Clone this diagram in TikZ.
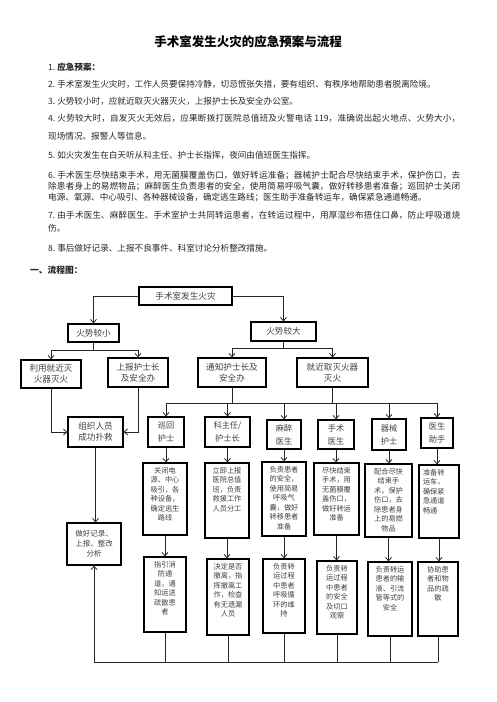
\documentclass[tikz,border=0pt]{standalone}
\usepackage{fontspec}
\newfontfamily\cjk{Noto Sans CJK SC}
\usetikzlibrary{arrows.meta,positioning,calc}
\XeTeXlinebreaklocale "zh"
\XeTeXlinebreakskip=0pt plus 1pt

\begin{document}
\begin{tikzpicture}[
  x=1pt, y=-1pt,
  txt/.style={inner sep=0pt, text=black!85},
  para/.style={txt, anchor=north west, text width=412pt, align=justify,
               font=\cjk\fontsize{8.6}{#1}\selectfont},
  para/.default=13,
  box/.style={draw=black, line width=1.1pt, inner sep=0pt, align=center, text=black!75},
  sz/.style 2 args={minimum width=#1pt, minimum height=#2pt},
  lvl/.style={box, font=\cjk\fontsize{8.6}{11}\selectfont},
  rolebox/.style={box, font=\cjk\fontsize{8.2}{13}\selectfont},
  dutybox/.style={box, inner sep=4pt, font=\cjk\fontsize{7.2}{9.5}\selectfont},
  link/.style={line width=0.8pt, black!85},
  flow/.style={link, -{Straight Barb[length=3.5pt, width=6pt]}}
]
\newcommand{\duty}[4][\centering]{\parbox[c][#3pt][t]{#2pt}{#1#4}}
\useasboundingbox (0,0) rectangle (496,702);

% heading and plan text
\node[txt, text=black, font=\cjk\bfseries\fontsize{12.5}{14}\selectfont] (title) at (248,42) {手术室发生火灾的应急预案与流程};

\node[para] (p1) at (48,62.5) {1.\ \textbf{应急预案：}};
\node[para] (p2) at (48,79.5) {2.\ 手术室发生火灾时，工作人员要保持冷静，切忌慌张失措，要有组织、有秩序地帮助患者脱离险境。};
\node[para] (p3) at (48,96.5) {3.\ 火势较小时，应就近取灭火器灭火，上报护士长及安全办公室。};
\node[para=17.5] (p4) at (48,114.5) {4.\ 火势较大时，自发灭火无效后，应果断拨打医院总值班及火警电话 119，准确说出起火地点、火势大小，\linebreak 现场情况、报警人等信息。};
\node[para] (p5) at (48,151.5) {5.\ 如火灾发生在白天听从科主任、护士长指挥，夜间由值班医生指挥。};
\node[para=11] (p6) at (48,171.5) {6.\ 手术医生尽快结束手术，用无菌膜覆盖伤口，做好转运准备；器械护士配合尽快结束手术，保护伤口，去\linebreak 除患者身上的易燃物品；麻醉医生负责患者的安全，使用简易呼吸气囊，做好转移患者准备；巡回护士关闭\linebreak 电源、氧源、中心吸引、各种器械设备，确定逃生路线；医生助手准备转运车，确保紧急通道畅通。};
\node[para=13.3] (p7) at (48,210.5) {7.\ 由手术医生、麻醉医生、手术室护士共同转运患者，在转运过程中，用厚湿纱布捂住口鼻，防止呼吸道烧\linebreak 伤。};
\node[para] (p8) at (48,243.5) {8.\ 事后做好记录、上报不良事件、科室讨论分析整改措施。};

\node[txt, anchor=west, font=\cjk\fontsize{8.75}{10}\selectfont\bfseries] (flowhd) at (30,270) {一、流程图：};

% first levels
\node[lvl, sz={93}{18}] (fire)   at (185.5,296)   {手术室发生火灾};
\node[lvl, sz={51}{18}] (small)  at (93.5,333)    {火势较小};
\node[lvl, sz={65}{19}] (big)    at (283.5,331.5) {火势较大};
\node[lvl, sz={60}{28}] (use)    at (51,374)      {利用就近灭\\火器灭火};
\node[lvl, sz={60}{29}] (report) at (138,372.5)   {上报护士长\\及安全办};
\node[lvl, sz={68}{29}] (notify) at (232,372.5)   {通知护士长及\\安全办};
\node[lvl, sz={71}{29}] (fetch)  at (332.5,372.5) {就近取灭火器\\灭火};
\node[lvl, sz={55}{30}] (rescue) at (95.5,432)    {组织人员\\成功扑救};
\node[lvl, sz={54}{42}, font=\cjk\fontsize{7.5}{10}\selectfont] (record) at (94,544) {做好记录、\\上报、整改\\分析};

% roles
\node[rolebox, sz={36}{30}] (h1) at (166,432)   {巡回\\护士};
\node[rolebox, sz={45}{30}] (h2) at (227.5,432) {科主任/\\护士长};
\node[rolebox, sz={34}{29}] (h3) at (284,434.5) {麻醉\\医生};
\node[rolebox, sz={36}{29}] (h4) at (336,434.5) {手术\\医生};
\node[rolebox, sz={34}{31}] (h5) at (389,434.5) {器械\\护士};
\node[rolebox, sz={32}{30}] (h6) at (437,433)   {医生\\助手};

% duties, first row
\node[dutybox] (a1) at (165,499)     {\duty{36}{64}{关闭电\\源、中心\\吸引，各\\种设备，\\确定逃生\\路线}};
\node[dutybox] (a2) at (227,500.5)   {\duty{36}{67}{立即上报\\医院总值\\班，负责\\救援工作\\人员分工}};
\node[dutybox] (a3) at (284,499)     {\duty{36}{66}{负责患者\\的安全，\\使用简易\\呼吸气\\囊，做好\\转移患者\\准备}};
\node[dutybox] (a4) at (336.5,499)   {\duty{37}{64}{尽快结束\\手术，用\\无菌膜覆\\盖伤口，\\做好转运\\准备}};
\node[dutybox] (a5) at (388.5,500.5) {\duty{39}{65}{配合尽快\\结束手\\术，保护\\伤口，去\\除患者身\\上的易燃\\物品}};
\node[dutybox] (a6) at (439,501.5)   {\duty[\raggedright]{32}{65}{准备转\\运车，\\确保紧\\急通道\\畅通}};

% duties, second row
\node[dutybox] (b1) at (165,594.5) {\duty{34}{67}{指引消\\防通\\道，通\\知运送\\疏散患\\者}};
\node[dutybox] (b2) at (228,597)   {\duty{34}{68}{决定是否\\撤离，指\\挥撤离工\\作，检查\\有无遗漏\\人员}};
\node[dutybox] (b3) at (284,596)   {\duty{34}{66}{负责转\\运过程\\中患者\\呼吸循\\环的维\\持}};
\node[dutybox] (b4) at (337,597.5) {\duty{32}{65}{负责转\\运过程\\中患者\\的安全\\及切口\\观察}};
\node[dutybox] (b5) at (390,599)   {\duty{36}{66}{负责转运\\患者的输\\液、引流\\管等式的\\安全}};
\node[dutybox] (b6) at (438,599)   {\duty{32}{66}{协助患\\者和物\\品的疏\\散}};

% connectors
\draw[flow] (fire.west) -| (small.north);
\draw[flow] (fire.east) -| (big.north);

\draw[link] (small.south) -- ++(0,8) coordinate (sj);
\draw[flow] (sj) -| (use.north);
\draw[flow] (sj) -| (report.north);

\draw[link] (big.south) -- ++(0,7) coordinate (bj);
\draw[flow] (bj) -| (notify.north);
\draw[flow] (bj) -| (fetch.north);

\draw[flow] (use.south) |- (rescue.west);
\draw[flow] (report.south) |- (rescue.east);
\draw[flow] (rescue.south) -- (rescue.south |- record.north);

\coordinate (bus) at (0,403);
\coordinate (base) at (0,662);
\draw[link] (notify.south) -- (notify.south |- bus);
\draw[link] (fetch.south) -- (fetch.south |- bus);
\draw[link] (h1.north |- bus) -- (h6.north |- bus);
\foreach \i in {1,...,6} {
  \draw[flow] (h\i.north |- bus) -- (h\i.north);
  \draw[flow] (h\i.south) -- (h\i.south |- a\i.north);
  \draw[flow] (a\i.south) -- (a\i.south |- b\i.north);
  \draw[link] (b\i.south) -- (b\i.south |- base);
}
\draw[link] (record.south |- base) -- (b6.south |- base);
\draw[flow] (record.south |- base) -- (record.south);
\end{tikzpicture}
\end{document}
